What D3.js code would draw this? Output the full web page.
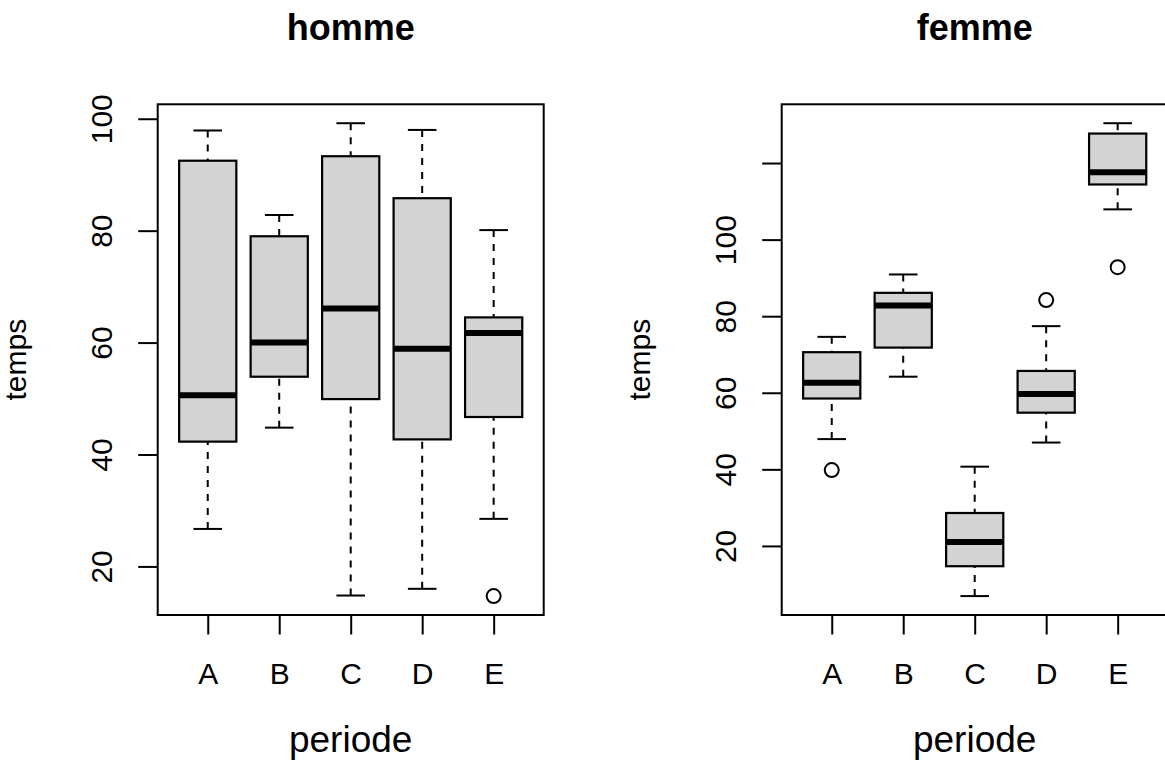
<!DOCTYPE html>
<html>
<head>
<meta charset="utf-8">
<script src="https://cdn.jsdelivr.net/npm/d3@7"></script>
<style>
  html, body { margin: 0; padding: 0; background: #ffffff; }
  svg { display: block; }
  text { font-family: "Liberation Sans", Arial, Helvetica, sans-serif; fill: #000; }
</style>
</head>
<body>
<svg id="chart" width="1165" height="767"></svg>
<script>
// Box statistics per period (whisker low, Q1, median, Q3, whisker high) and outliers
const periods = ["A", "B", "C", "D", "E"];

const hommeLow  = [26.7, 44.8, 14.8, 16.0, 28.5];
const hommeQ1   = [42.3, 53.9, 49.9, 42.7, 46.7];
const hommeMed  = [50.6, 60.0, 66.1, 58.9, 61.7];
const hommeQ3   = [92.5, 79.0, 93.3, 85.8, 64.5];
const hommeHigh = [97.9, 82.8, 99.2, 98.0, 80.1];
const hommeOut  = [[], [], [], [], [14.7]];

const femmeLow  = [47.9, 64.2, 6.9, 47.0, 107.9];
const femmeQ1   = [58.5, 71.8, 14.7, 54.8, 114.4];
const femmeMed  = [62.6, 82.8, 21.0, 59.7, 117.6];
const femmeQ3   = [70.6, 86.1, 28.6, 65.7, 127.7];
const femmeHigh = [74.6, 90.9, 40.7, 77.4, 130.4];
const femmeOut  = [[39.8], [], [], [84.2], [92.8]];

const hommeTicks = [20, 40, 60, 80, 100];
const hommeTickLabels = ["20", "40", "60", "80", "100"];
const femmeTicks = [20, 40, 60, 80, 100, 120];
const femmeTickLabels = ["20", "40", "60", "80", "100", ""];

const svg = d3.select("#chart");
svg.append("rect").attr("width", 1165).attr("height", 767).attr("fill", "#ffffff");

const TOP = 104.3, BOTTOM = 615;

function drawPanel(cfg) {
  const g = svg.append("g");
  const stats = periods.map((p, i) => ({
    p, low: cfg.low[i], q1: cfg.q1[i], med: cfg.med[i], q3: cfg.q3[i], high: cfg.high[i], out: cfg.out[i]
  }));

  const x = d3.scalePoint().domain(periods).range([cfg.x0, cfg.x1]).padding(0.7);
  const allVals = [...cfg.low, ...cfg.high, ...cfg.out.flat()];
  const [mn, mx] = d3.extent(allVals);
  const pad = (mx - mn) * 0.04;
  const y = d3.scaleLinear().domain([mn - pad, mx + pad]).range([BOTTOM, TOP]);

  const bw = x.step() * 0.8;
  const cap = bw / 2;

  const box = g.selectAll("g.box").data(stats).join("g").attr("class", "box");

  // dashed whiskers, drawn from the caps toward the box
  box.append("line")
    .attr("x1", d => x(d.p)).attr("x2", d => x(d.p))
    .attr("y1", d => y(d.low)).attr("y2", d => y(d.q1))
    .attr("stroke", "#000").attr("stroke-width", 2).attr("stroke-dasharray", "7,7");
  box.append("line")
    .attr("x1", d => x(d.p)).attr("x2", d => x(d.p))
    .attr("y1", d => y(d.high)).attr("y2", d => y(d.q3))
    .attr("stroke", "#000").attr("stroke-width", 2).attr("stroke-dasharray", "7,7");
  // whisker caps
  ["low", "high"].forEach(k => {
    box.append("line")
      .attr("x1", d => x(d.p) - cap / 2).attr("x2", d => x(d.p) + cap / 2)
      .attr("y1", d => y(d[k])).attr("y2", d => y(d[k]))
      .attr("stroke", "#000").attr("stroke-width", 2);
  });
  // boxes
  box.append("rect")
    .attr("x", d => x(d.p) - bw / 2).attr("width", bw)
    .attr("y", d => y(d.q3)).attr("height", d => y(d.q1) - y(d.q3))
    .attr("fill", "#d3d3d3").attr("stroke", "#000").attr("stroke-width", 2.2);
  // medians
  box.append("line")
    .attr("x1", d => x(d.p) - bw / 2).attr("x2", d => x(d.p) + bw / 2)
    .attr("y1", d => y(d.med)).attr("y2", d => y(d.med))
    .attr("stroke", "#000").attr("stroke-width", 6);
  // outliers
  box.selectAll("circle").data(d => d.out.map(v => ({ p: d.p, v }))).join("circle")
    .attr("cx", d => x(d.p)).attr("cy", d => y(d.v)).attr("r", 7)
    .attr("fill", "none").attr("stroke", "#000").attr("stroke-width", 2);

  // plot frame
  g.append("rect")
    .attr("x", cfg.x0).attr("y", TOP)
    .attr("width", cfg.x1 - cfg.x0).attr("height", BOTTOM - TOP)
    .attr("fill", "none").attr("stroke", "#000").attr("stroke-width", 2);

  // y axis
  const ya = g.append("g").attr("transform", `translate(${cfg.x0},0)`)
    .call(d3.axisLeft(y).tickValues(cfg.ticks).tickSize(19.5).tickSizeOuter(0)
      .tickFormat((d, i) => cfg.tickLabels[i]));
  ya.select(".domain").remove();
  ya.selectAll(".tick line").attr("stroke", "#000").attr("stroke-width", 2);
  ya.selectAll(".tick text")
    .attr("x", null).attr("dy", null)
    .attr("transform", "translate(-45.7,0) rotate(-90)")
    .attr("text-anchor", "middle")
    .style("font-size", "30px");

  // x axis
  const xa = g.append("g").attr("transform", `translate(0,${BOTTOM})`)
    .call(d3.axisBottom(x).tickSize(19.5).tickSizeOuter(0));
  xa.select(".domain").remove();
  xa.selectAll(".tick line").attr("stroke", "#000").attr("stroke-width", 2);
  xa.selectAll(".tick text")
    .attr("y", 69).attr("dy", null)
    .style("font-size", "30px");

  const cx = (cfg.x0 + cfg.x1) / 2;
  // title
  g.append("text").attr("x", cx).attr("y", 39.5)
    .attr("text-anchor", "middle")
    .style("font-size", "36px").style("font-weight", "bold")
    .text(cfg.title);
  // axis titles
  g.append("text").attr("x", cx).attr("y", 752)
    .attr("text-anchor", "middle").style("font-size", "37px")
    .text("periode");
  g.append("text")
    .attr("transform", `translate(${cfg.x0 - 131.3},${(TOP + BOTTOM) / 2}) rotate(-90)`)
    .attr("text-anchor", "middle").style("font-size", "30px")
    .text("temps");
}

drawPanel({
  title: "homme", x0: 157.7, x1: 543.7,
  low: hommeLow, q1: hommeQ1, med: hommeMed, q3: hommeQ3, high: hommeHigh, out: hommeOut,
  ticks: hommeTicks, tickLabels: hommeTickLabels
});
drawPanel({
  title: "femme", x0: 781.7, x1: 1167.7,
  low: femmeLow, q1: femmeQ1, med: femmeMed, q3: femmeQ3, high: femmeHigh, out: femmeOut,
  ticks: femmeTicks, tickLabels: femmeTickLabels
});
</script>
</body>
</html>
